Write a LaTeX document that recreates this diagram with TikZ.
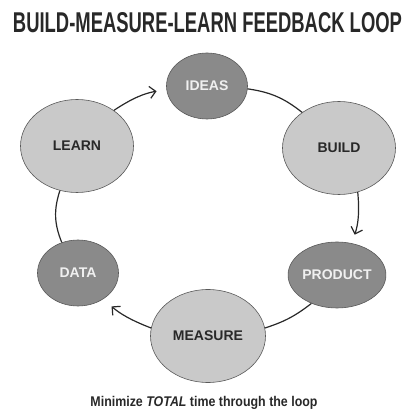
\documentclass[tikz,border=0pt]{standalone}
\usepackage{fontspec}
\usepackage{graphicx}
\setmainfont{Liberation Sans}
\usetikzlibrary{arrows.meta,shapes.geometric}
\definecolor{lightcirc}{RGB}{201,201,201}
\definecolor{darkcirc}{RGB}{138,138,138}
\definecolor{inkgray}{RGB}{40,40,40}

\tikzset{
  stage/.style={ellipse, draw=black!65, line width=0.6pt, inner sep=0pt,
    font=\bfseries\fontsize{14}{15}\selectfont},
  bigstage/.style={stage, fill=lightcirc, text=inkgray,
    minimum width=113pt, minimum height=93pt},
  smallstage/.style={stage, fill=darkcirc, text=white!94!black,
    minimum width=81pt, minimum height=66pt},
  loopline/.style={draw=inkgray, line width=1.2pt},
  looparrow/.style={loopline, -{Straight Barb[length=6pt,width=12pt]}},
}

\begin{document}
\begin{tikzpicture}[x=1pt,y=1pt]
            \useasboundingbox (0,0) rectangle (408,413);
            % Title
            \node at (207.5,390) (title) [text=inkgray]
              {\resizebox{389pt}{20pt}{\bfseries BUILD-MEASURE-LEARN FEEDBACK LOOP}};
            % Loop stages
            \node at (207,327) (ideas) [smallstage] {IDEAS};
            \node at (339,265) (build) [bigstage] {BUILD};
            \node at (337,138) (product) [smallstage] {PRODUCT};
            \node at (208,77) (measure) [bigstage, minimum width=115pt] {MEASURE};
            \node at (78,140) (data) [smallstage] {DATA};
            \node at (77,267) (learn) [bigstage] {LEARN};
            % Connectors
            \draw[loopline] (ideas.-4) to[bend left=15] (build.136);
            \draw[looparrow, shorten >=9pt] (build.-67) to[bend left=12] (product.65);
            \draw[loopline] (product.228) to[bend left=10] (measure.8);
            \draw[looparrow, shorten >=11pt] (measure.172) to[bend left=10] (data.-46);
            \draw[loopline] (data.118) to[bend left=20] (learn.249);
            \draw[looparrow, shorten >=10pt] (learn.44) to[bend left=12] (ideas.185);
            % Caption
            \node at (204,6) [anchor=base, text=inkgray] (caption)
              {\resizebox{227pt}{10.2pt}{\bfseries Minimize \textit{TOTAL} time through the loop}};
\end{tikzpicture}
\end{document}
